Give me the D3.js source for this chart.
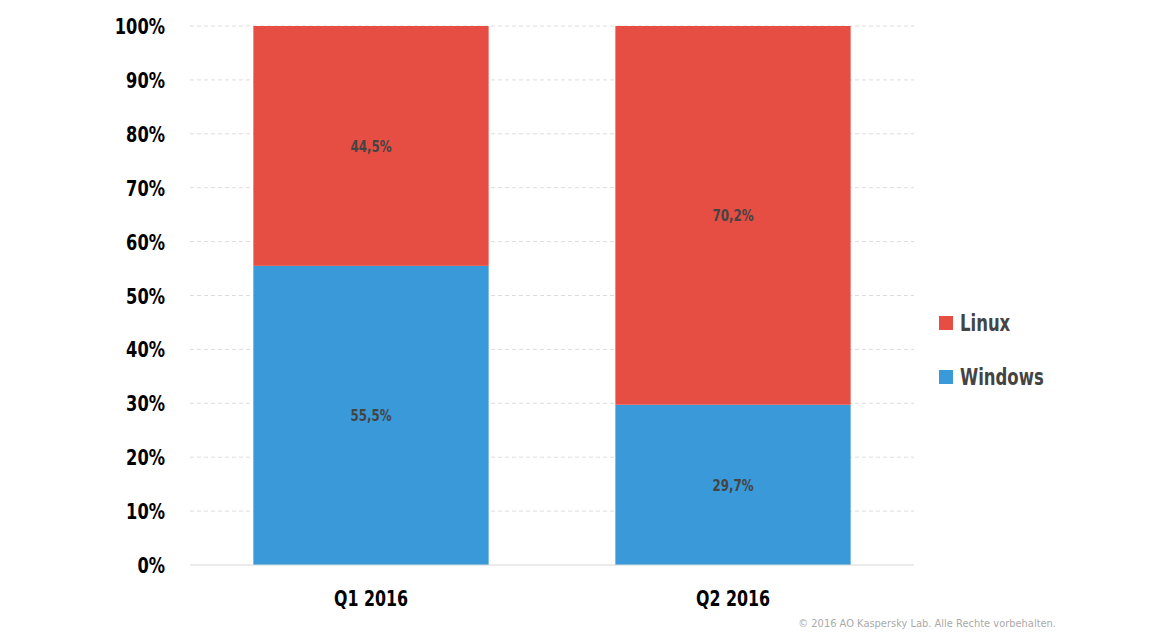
<!DOCTYPE html>
<html><head><meta charset="utf-8">
<script src="https://cdn.jsdelivr.net/npm/d3@7"></script>
<style>body{margin:0;background:#fff}svg{display:block}</style>
</head><body><svg id="c" width="1167" height="638"></svg>
<script>
const categories = ["Q1 2016", "Q2 2016"];
const windows = [55.5, 29.7];
const linux = [44.5, 70.2];
const seriesNames = ["Windows", "Linux"];
const colors = ["#3A9AD9", "#E74E43"];
const yTicks = [0,10,20,30,40,50,60,70,80,90,100];

const font = "'DejaVu Sans Condensed','DejaVu Sans',sans-serif";
const svg = d3.select("#c");
const m = {left:190, right:914, top:26, bottom:565};
const x = d3.scaleBand().domain(categories).range([m.left, m.right]).paddingInner(0.35).paddingOuter(0.175);
const y = d3.scaleLinear().domain([0,100]).range([m.bottom, m.top]);

const rows = categories.map((c,i)=>({cat:c, Windows:windows[i], Linux:linux[i]}));
const stack = d3.stack().keys(seriesNames).offset(d3.stackOffsetExpand);
const layers = stack(rows);

// grid
svg.append("g").selectAll("line").data(yTicks.filter(t=>t>0)).join("line")
  .attr("x1", m.left).attr("x2", m.right)
  .attr("y1", d=>y(d)).attr("y2", d=>y(d))
  .attr("stroke", "#dcdcdc").attr("stroke-dasharray","4,3");

// bars
layers.forEach((layer,li)=>{
  const g = svg.append("g");
  g.selectAll("rect").data(layer).join("rect")
    .attr("x", d=>x(d.data.cat)).attr("width", x.bandwidth())
    .attr("y", d=>y(d[1]*100)).attr("height", d=>y(d[0]*100)-y(d[1]*100))
    .attr("fill", colors[li]);
  g.selectAll("text").data(layer).join("text")
    .attr("transform", d=>`translate(${x(d.data.cat)+x.bandwidth()/2},${(y(d[0]*100)+y(d[1]*100))/2 + 6}) scale(0.85,1)`)
    .attr("text-anchor","middle").attr("font-family",font).attr("font-weight","bold")
    .attr("font-size",15.5).attr("fill","#444")
    .text(d=>String(d.data[layer.key]).replace(".", ",") + "%");
});

// baseline
svg.append("line").attr("x1", m.left).attr("x2", m.right).attr("y1", y(0)).attr("y2", y(0)).attr("stroke","#d6d6d6");

// y axis labels
const yAxis = d3.axisLeft(y).tickValues(yTicks).tickFormat(d=>d+"%").tickSize(0).tickPadding(0);
const ya = svg.append("g").attr("transform","translate(165,0)").call(yAxis);
ya.select(".domain").remove();
ya.selectAll("text").attr("font-family",font).attr("font-weight","bold").attr("font-size",21).attr("fill","#000")
  .attr("dy","0.36em").attr("transform","scale(0.86,1)");

// x axis labels
const xAxis = d3.axisBottom(x).tickSize(0).tickPadding(0);
const xa = svg.append("g").attr("transform","translate(0,590)").call(xAxis);
xa.select(".domain").remove();
xa.selectAll("text").attr("font-family",font).attr("font-weight","bold").attr("font-size",22).attr("fill","#000")
  .attr("dy","0.71em").attr("transform","scale(0.8,1)");

// legend
const legendItems = ["Linux", "Windows"];
const legendColors = [colors[1], colors[0]];
const lg = svg.append("g");
legendItems.forEach((n,i)=>{
  const yy = 316 + i*54;
  lg.append("rect").attr("x",939).attr("y",yy).attr("width",14).attr("height",14).attr("fill",legendColors[i]);
  lg.append("text").attr("transform",`translate(960,${yy+15}) scale(0.78,1)`).attr("font-family",font).attr("font-weight","bold")
    .attr("font-size",23.5).attr("fill","#444").text(n);
});

// copyright
svg.append("text").attr("x",1056).attr("y",627).attr("text-anchor","end")
  .attr("font-family","'DejaVu Sans',sans-serif").attr("font-size",9.9).attr("fill","#aaa")
  .text("© 2016 AO Kaspersky Lab. Alle Rechte vorbehalten.");
</script></body></html>
